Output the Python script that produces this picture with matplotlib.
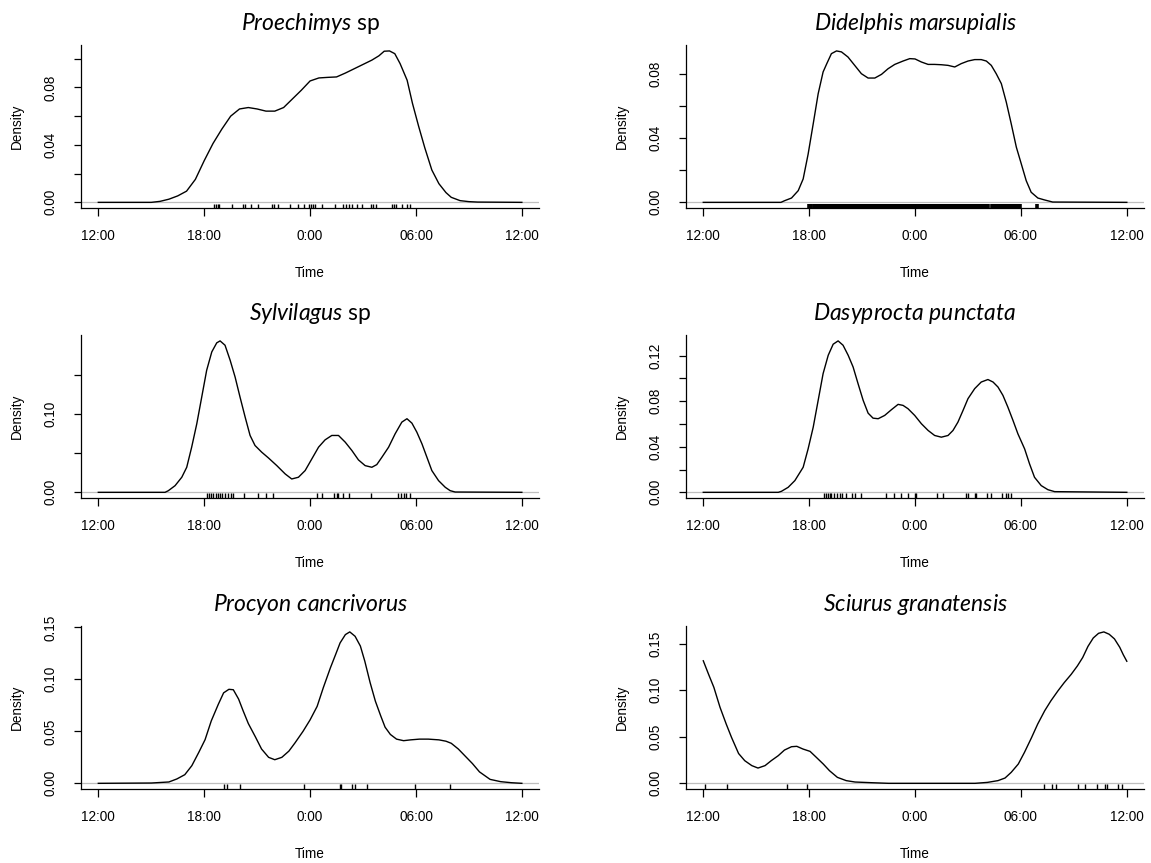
import matplotlib.pyplot as plt

# activity density curves
# time axis runs 12:00 -> 12:00, in hours (24 = midnight)
proe_t = [12, 15, 15.5, 16, 16.5, 17, 17.5, 18, 18.5, 19, 19.5, 20, 20.5, 21, 21.5, 22, 22.5, 23, 23.5, 24,
          24.5, 25, 25.5, 26, 26.5, 27, 27.5, 27.9, 28.2, 28.5, 28.8, 29.1, 29.5, 29.8, 30.15, 30.5, 30.9, 31.3,
          31.7, 32.0, 32.5, 33.0, 33.5, 36]
proe_d = [0, 0, 0.0007, 0.0022, 0.0045, 0.0078, 0.016, 0.029, 0.041, 0.051, 0.060, 0.065, 0.066, 0.065, 0.0635,
          0.0635, 0.066, 0.072, 0.078, 0.0845, 0.0866, 0.087, 0.0873, 0.090, 0.093, 0.096, 0.099, 0.102, 0.1052,
          0.1054, 0.1035, 0.0966, 0.085, 0.069, 0.053, 0.038, 0.0225, 0.013, 0.0068, 0.0035, 0.0012, 0.0005,
          0.0002, 0]
proe_rug = [18.58, 18.65, 18.77, 18.86, 19.56, 20.20, 20.30, 20.64, 21.07, 21.83, 21.94, 22.21, 22.87, 23.34,
            23.63, 23.95, 24.06, 24.17, 24.29, 24.70, 25.42, 25.84, 26.03, 26.18, 26.37, 26.65, 26.93, 27.46,
            27.58, 27.73, 28.64, 28.75, 28.88, 29.20, 29.49, 29.67]

didel_t = [12, 16.4, 16.6, 17.0, 17.38, 17.66, 17.94, 18.23, 18.51, 18.79, 19.0, 19.26, 19.55, 19.83, 20.2,
           20.58, 20.96, 21.34, 21.72, 22.1, 22.47, 22.85, 23.32, 23.7, 24.0, 24.36, 24.74, 25.1, 25.49, 25.87,
           26.25, 26.62, 27.0, 27.38, 27.75, 28.04, 28.32, 28.6, 28.89, 29.17, 29.45, 29.74, 30.02, 30.3, 30.58,
           30.96, 31.34, 31.8, 36]
didel_d = [0, 0, 0.001, 0.0027, 0.0073, 0.0146, 0.030, 0.049, 0.0677, 0.0813, 0.0865, 0.0927, 0.0944, 0.0938,
           0.0906, 0.0854, 0.0802, 0.0775, 0.0775, 0.0798, 0.0833, 0.086, 0.0881, 0.0896, 0.0894, 0.0875, 0.086,
           0.086, 0.0858, 0.0854, 0.0844, 0.0865, 0.0881, 0.089, 0.089, 0.0881, 0.0854, 0.0802, 0.074, 0.0625,
           0.049, 0.0344, 0.024, 0.0135, 0.0063, 0.0027, 0.0015, 0.0002, 0]
# records too dense to read one by one: solid band 18:15-05:50
didel_rug = [17.98, 18.09,
             18.25, 18.35, 18.45, 18.55, 18.65, 18.75, 18.85, 18.95, 19.05, 19.15, 19.25, 19.35, 19.45, 19.55,
             19.65, 19.75, 19.85, 19.95, 20.05, 20.15, 20.25, 20.35, 20.45, 20.55, 20.65, 20.75, 20.85, 20.95,
             21.05, 21.15, 21.25, 21.35, 21.45, 21.55, 21.65, 21.75, 21.85, 21.95, 22.05, 22.15, 22.25, 22.35,
             22.45, 22.55, 22.65, 22.75, 22.85, 22.95, 23.05, 23.15, 23.25, 23.35, 23.45, 23.55, 23.65, 23.75,
             23.85, 23.95, 24.05, 24.15, 24.25, 24.35, 24.45, 24.55, 24.65, 24.75, 24.85, 24.95, 25.05, 25.15,
             25.25, 25.35, 25.45, 25.55, 25.65, 25.75, 25.85, 25.95, 26.05, 26.15, 26.25, 26.35, 26.45, 26.55,
             26.65, 26.75, 26.85, 26.95, 27.05, 27.15, 27.25, 27.35, 27.45, 27.55, 27.65, 27.75, 27.85, 27.95,
             28.05, 28.15, 28.35, 28.45, 28.55, 28.65, 28.75, 28.85, 28.95, 29.05, 29.15, 29.25, 29.35,
             29.45, 29.55, 29.65, 29.75, 29.83,
             29.92, 30.92]

sylv_t = [12, 15.78, 15.97, 16.35, 16.73, 17.01, 17.29, 17.58, 17.86, 18.14, 18.43, 18.71, 18.9, 19.18, 19.47,
          19.75, 20.03, 20.32, 20.6, 20.88, 21.26, 21.64, 22.11, 22.59, 22.96, 23.34, 23.72, 24.1, 24.48, 24.85,
          25.23, 25.61, 25.99, 26.37, 26.74, 27.12, 27.5, 27.78, 28.07, 28.45, 28.82, 29.2, 29.49, 29.77, 30.05,
          30.34, 30.62, 30.9, 31.28, 31.66, 31.94, 32.22, 36]
sylv_d = [0, 0, 0.0021, 0.0085, 0.0192, 0.0319, 0.0575, 0.0873, 0.1213, 0.1554, 0.1788, 0.1903, 0.1928, 0.1873,
          0.1682, 0.1469, 0.1213, 0.0958, 0.0724, 0.0596, 0.0511, 0.0438, 0.0341, 0.0234, 0.017, 0.0192, 0.0277,
          0.0426, 0.0575, 0.0668, 0.0724, 0.0724, 0.0639, 0.0532, 0.0413, 0.034, 0.0319, 0.0353, 0.0447, 0.0575,
          0.0745, 0.0894, 0.0937, 0.0881, 0.0766, 0.0617, 0.0447, 0.0277, 0.0149, 0.0064, 0.0021, 0.0004, 0]
sylv_rug = [18.14, 18.28, 18.39, 18.52, 18.65, 18.77, 18.90, 19.03, 19.18, 19.33, 19.50, 19.66, 20.28, 21.04,
            21.51, 21.92, 24.38, 24.67, 25.38, 25.52, 25.61, 25.89, 26.18, 27.46, 29.01, 29.15, 29.30, 29.43,
            29.67]

dasy_t = [12, 16.25, 16.43, 16.81, 17.19, 17.66, 17.94, 18.23, 18.51, 18.79, 19.08, 19.36, 19.64, 19.92, 20.21,
          20.49, 20.77, 21.06, 21.34, 21.62, 21.91, 22.28, 22.66, 23.04, 23.32, 23.6, 23.98, 24.36, 24.74, 25.11,
          25.49, 25.87, 26.15, 26.43, 26.72, 27.0, 27.38, 27.75, 28.13, 28.42, 28.7, 28.98, 29.26, 29.55, 29.83,
          30.21, 30.49, 30.77, 31.15, 31.53, 31.91, 36]
dasy_d = [0, 0, 0.0009, 0.0044, 0.0103, 0.022, 0.0381, 0.0572, 0.0807, 0.1042, 0.1203, 0.13, 0.1329, 0.1291,
          0.1203, 0.11, 0.0954, 0.0807, 0.0695, 0.0651, 0.0646, 0.0675, 0.0725, 0.0772, 0.0763, 0.0734, 0.0675,
          0.0602, 0.0543, 0.0499, 0.0484, 0.0499, 0.0543, 0.0616, 0.0719, 0.0822, 0.091, 0.0968, 0.099, 0.0968,
          0.0924, 0.0851, 0.0748, 0.0631, 0.0513, 0.0381, 0.0249, 0.0132, 0.0059, 0.0023, 0.0006, 0]
dasy_rug = [18.85, 18.98, 19.08, 19.17, 19.26, 19.38, 19.55, 19.74, 19.87, 20.11, 20.40, 20.58, 20.96, 22.38,
            22.81, 23.23, 23.60, 23.98, 24.06, 25.26, 25.58, 26.91, 27.0, 27.38, 27.47, 28.09, 28.32, 28.92,
            29.17, 29.26, 29.42]

proc_t = [12, 15, 16, 16.45, 16.9, 17.3, 17.7, 18.05, 18.4, 18.8, 19.1, 19.4, 19.65, 19.95, 20.2, 20.5, 20.9,
          21.25, 21.65, 22.0, 22.4, 22.8, 23.15, 23.6, 24.0, 24.4, 24.75, 25.15, 25.45, 25.7, 26.0, 26.25, 26.55,
          26.85, 27.1, 27.4, 27.7, 28.0, 28.25, 28.55, 28.9, 29.3, 29.7, 30.2, 30.7, 31.3, 31.7, 32.0, 32.4,
          32.8, 33.2, 33.6, 34.2, 34.8, 35.4, 36]
proc_d = [0, 0.0003, 0.0013, 0.0042, 0.0083, 0.017, 0.030, 0.042, 0.060, 0.076, 0.087, 0.0904, 0.090, 0.081,
          0.070, 0.0575, 0.0447, 0.033, 0.025, 0.0227, 0.025, 0.031, 0.039, 0.050, 0.061, 0.074, 0.092, 0.111,
          0.124, 0.135, 0.143, 0.1456, 0.1414, 0.132, 0.1175, 0.097, 0.079, 0.065, 0.054, 0.047, 0.0425, 0.041,
          0.0418, 0.0425, 0.0425, 0.0418, 0.0405, 0.0385, 0.033, 0.026, 0.019, 0.011, 0.0038, 0.0016, 0.0006, 0]
proc_rug = [19.15, 19.28, 20.03, 23.63, 25.67, 25.74, 26.37, 26.52, 27.22, 29.96, 31.94]

sciu_t = [12, 12.3, 12.6, 12.95, 13.3, 13.6, 14.0, 14.35, 14.75, 15.1, 15.5, 15.85, 16.25, 16.6, 17.0, 17.3,
          17.65, 18.05, 18.4, 18.8, 19.15, 19.6, 20.1, 20.6, 21.5, 22.5, 27.4, 28.1, 28.7, 29.1, 29.45, 29.85,
          30.2, 30.6, 30.95, 31.35, 31.7, 32.1, 32.45, 32.85, 33.2, 33.5, 33.8, 34.1, 34.4, 34.7, 35.0, 35.3,
          35.6, 35.8, 36]
sciu_d = [0.1315, 0.117, 0.103, 0.0815, 0.0636, 0.0493, 0.032, 0.0243, 0.019, 0.0164, 0.019, 0.0243, 0.0297,
          0.0357, 0.0393, 0.0397, 0.0368, 0.0343, 0.028, 0.0207, 0.0136, 0.0064, 0.0029, 0.0014, 0.0007, 0, 0,
          0.001, 0.0029, 0.0057, 0.0118, 0.0207, 0.0332, 0.049, 0.0636, 0.078, 0.0886, 0.0993, 0.108, 0.117,
          0.126, 0.135, 0.147, 0.156, 0.161, 0.1625, 0.160, 0.155, 0.146, 0.138, 0.131]
sciu_rug = [12.09, 13.32, 16.75, 17.85, 31.28, 31.75, 32.0, 33.26, 33.63, 34.29, 34.77, 34.87, 35.49, 35.74]

# x axis
hour_ticks = [12, 18, 24, 30, 36]
hour_labels = ['12:00', '18:00', '0:00', '06:00', '12:00']

# y axis ticks (R drops the labels that would collide)
yt_002 = [0, 0.02, 0.04, 0.06, 0.08, 0.10]
yl_002 = ['0.00', '', '0.04', '', '0.08', '']
yt_002b = [0, 0.02, 0.04, 0.06, 0.08]
yl_002b = ['0.00', '', '0.04', '', '0.08']
yt_005 = [0, 0.05, 0.10, 0.15]
yl_sylv = ['0.00', '', '0.10', '']
yl_005 = ['0.00', '0.05', '0.10', '0.15']
yt_dasy = [0, 0.02, 0.04, 0.06, 0.08, 0.10, 0.12]
yl_dasy = ['0.00', '', '0.04', '', '0.08', '', '0.12']

panels = [
    (r'$\mathit{Proechimys}$ sp', proe_t, proe_d, proe_rug, 1.0, yt_002, yl_002),
    (r'$\mathit{Didelphis}$ $\mathit{marsupialis}$', didel_t, didel_d, didel_rug, 2.6, yt_002b, yl_002b),
    (r'$\mathit{Sylvilagus}$ sp', sylv_t, sylv_d, sylv_rug, 1.0, yt_005, yl_sylv),
    (r'$\mathit{Dasyprocta}$ $\mathit{punctata}$', dasy_t, dasy_d, dasy_rug, 1.0, yt_dasy, yl_dasy),
    (r'$\mathit{Procyon}$ $\mathit{cancrivorus}$', proc_t, proc_d, proc_rug, 1.0, yt_005, yl_005),
    (r'$\mathit{Sciurus}$ $\mathit{granatensis}$', sciu_t, sciu_d, sciu_rug, 1.0, yt_005, yl_005),
]

plt.rcParams['font.family'] = 'Liberation Sans'
plt.rcParams['mathtext.fontset'] = 'custom'
plt.rcParams['mathtext.it'] = 'Lato:italic'
plt.rcParams['mathtext.rm'] = 'Lato'

fig = plt.figure(figsize=(11.51, 8.63), dpi=100)

lefts = [0.0707, 0.5963]
bottoms = [0.7585, 0.4225, 0.0853]
w, h = 0.3974, 0.1895

for i, (title, t, d, rug, rug_lw, yt, yl) in enumerate(panels):
    ax = fig.add_axes([lefts[i % 2], bottoms[i // 2], w, h])
    ax.axhline(0, color='#BEBEBE', lw=0.9, zorder=1)
    ax.plot(t, d, color='black', lw=1.0, zorder=2)
    ax.vlines(rug, 0, 0.03, transform=ax.get_xaxis_transform(), color='black', lw=rug_lw, zorder=3)

    top = max(d)
    ax.set_xlim(12 - 0.96, 36 + 0.96)
    ax.set_ylim(-0.04 * top, 1.04 * top)

    ax.spines['top'].set_visible(False)
    ax.spines['right'].set_visible(False)
    for s in ['left', 'bottom']:
        ax.spines[s].set_linewidth(0.9)

    ax.set_xticks(hour_ticks)
    ax.set_xticklabels(hour_labels, fontsize=9.8)
    ax.set_yticks(yt)
    ax.set_yticklabels(yl, fontsize=9.8, rotation=90, va='center')
    ax.tick_params(axis='x', direction='out', length=5.4, width=0.9, pad=9.5)
    ax.tick_params(axis='y', direction='out', length=5.4, width=0.9, pad=11.5)

    ax.set_xlabel('Time', fontsize=9.8, va='center')
    ax.xaxis.set_label_coords(0.5, -0.397)
    ax.set_ylabel('Density', fontsize=9.8, va='center')
    ax.yaxis.set_label_coords(-0.142, 0.5)

    ax.set_title(title, family='Lato', fontsize=16.5, pad=11)

plt.savefig('out.png', dpi=100)
